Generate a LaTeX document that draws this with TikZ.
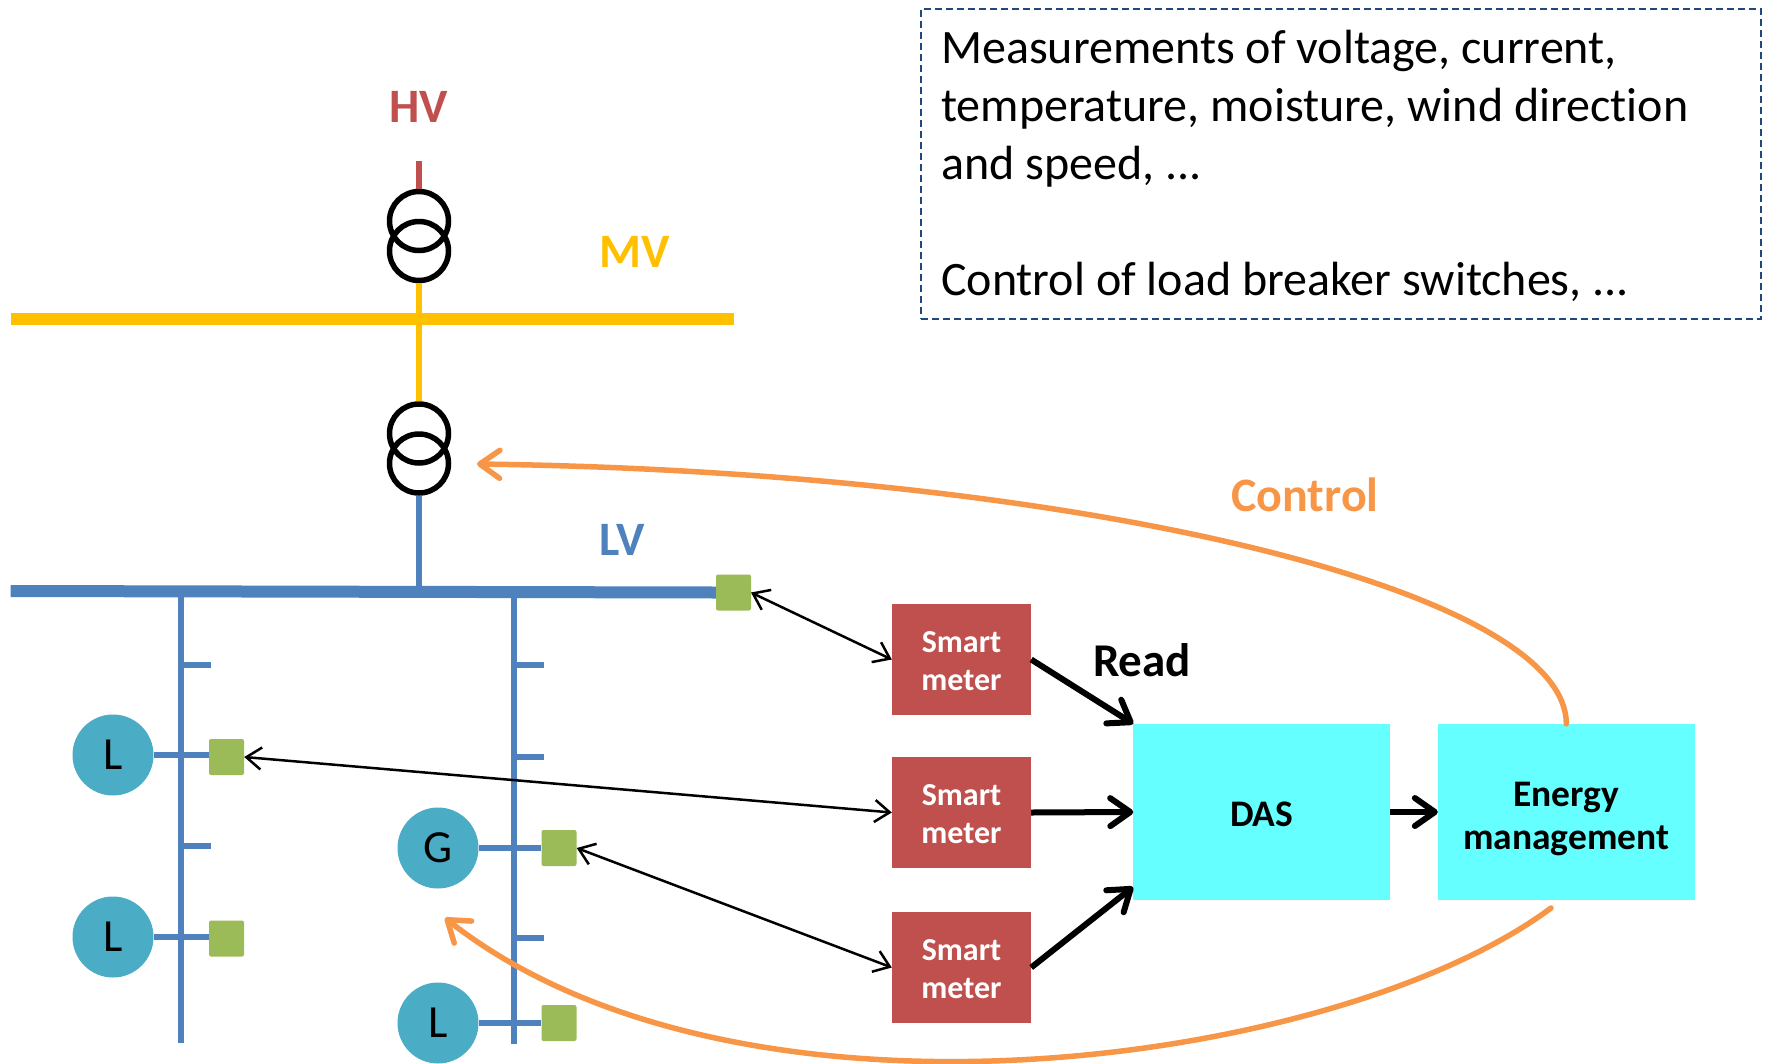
\documentclass[tikz,border=0pt]{standalone}
\usepackage{fontspec}
\setmainfont[Ligatures=NoCommon]{Carlito}
\usetikzlibrary{arrows.meta}
\definecolor{hvred}{HTML}{C0504D}
\definecolor{mvyellow}{HTML}{FFC000}
\definecolor{lvblue}{HTML}{4F81BD}
\definecolor{loadteal}{HTML}{4BACC6}
\definecolor{meetgreen}{HTML}{9BBB59}
\definecolor{dascyan}{HTML}{66FFFF}
\definecolor{ctrlorange}{HTML}{F79646}
\definecolor{boxblue}{HTML}{1F497D}
\tikzset{
  xfmr/.style={circle,draw=black,line width=5.5pt,minimum size=59pt,inner sep=0pt},
  bus/.style={line width=12pt},
  feeder/.style={lvblue,line width=6pt},
  loadnode/.style={circle,fill=loadteal,minimum size=81pt,inner sep=0pt,font=\fontsize{46}{46}\selectfont},
  sensor/.style={rectangle,rounded corners=2pt,fill=meetgreen,minimum width=35pt,minimum height=36pt,inner sep=0pt},
  meterbox/.style={rectangle,fill=hvred,text=white,minimum width=139pt,minimum height=111pt,inner sep=0pt,align=center,font=\fontsize{32}{38}\selectfont\bfseries},
  sysbox/.style={rectangle,fill=dascyan,minimum width=256.5pt,minimum height=176pt,inner sep=0pt,align=center,font=\fontsize{37.5}{43}\selectfont\bfseries},
  thin link/.style={black,line width=2.5pt,{Straight Barb[length=15pt,width=22pt]}-{Straight Barb[length=15pt,width=22pt]}},
  read link/.style={black,line width=6pt,-{Straight Barb[length=20pt,width=28pt,round]}},
  control link/.style={ctrlorange,line width=5.5pt,line cap=round,-{Straight Barb[length=20pt,width=28pt,round]}},
  level label/.style={font=\fontsize{48}{48}\selectfont\bfseries,inner sep=0pt},
}
\begin{document}
\begin{tikzpicture}[x=1pt,y=-1pt]
\useasboundingbox (0,0) rectangle (1772,1063);
% free line ends
\coordinate (hvtop) at (419,161);
\coordinate (mvL) at (10.6,319);
\coordinate (mvR) at (734,319);
\coordinate (lvL) at (10.6,591);
\coordinate (lvT) at (419,591.5);
\coordinate (f1top) at (181,591);
\coordinate (f1end) at (181,1043);
\coordinate (f2top) at (514,592);
\coordinate (f2end) at (514,1044);
% transformers
\node[xfmr] (t1a) at (419,221) {};
\node[xfmr] (t1b) at (419,251) {};
\node[xfmr] (t2a) at (419,433.5) {};
\node[xfmr] (t2b) at (419,463.5) {};
\draw[hvred,line width=6pt] (hvtop) -- (t1a.north);
\draw[mvyellow,line width=6pt] (t1b.south) -- (t2a.north);
\draw[mvyellow,bus] (mvL) -- (mvR);
\draw[lvblue,line width=6pt] (t2b.south) -- (lvT);
% sensors
\node[sensor] (sLV) at (733.5,592.5) {};
\node[sensor] (s1) at (226.5,757) {};
\node[sensor] (s2) at (226.5,938.5) {};
\node[sensor] (s3) at (559,848) {};
\node[sensor] (s4) at (559,1023) {};
% loads
\node[loadnode] (l1) at (113,755) {L};
\node[loadnode] (l2) at (113,937) {L};
\node[loadnode] (g1) at (438,848) {G};
\node[loadnode] (l3) at (438,1023) {L};
% buses and feeders
\draw[lvblue,bus] (lvL) -- (sLV.west);
\draw[feeder] (f1top) -- (f1end);
\draw[feeder] (f2top) -- (f2end);
\draw[feeder] (l1.east) -- (s1.west |- l1.east);
\draw[feeder] (l2.east) -- (s2.west |- l2.east);
\draw[feeder] (g1.east) -- (s3.west |- g1.east);
\draw[feeder] (l3.east) -- (s4.west |- l3.east);
\coordinate (t1) at (211,664.5);
\coordinate (t2) at (211,846);
\coordinate (t3) at (544,664.5);
\coordinate (t4) at (544,757);
\coordinate (t5) at (544,938);
\draw[feeder] (f1top |- t1) -- (t1);
\draw[feeder] (f1top |- t2) -- (t2);
\draw[feeder] (f2top |- t3) -- (t3);
\draw[feeder] (f2top |- t4) -- (t4);
\draw[feeder] (f2top |- t5) -- (t5);
% level labels
\node[level label,text=hvred] (hv) at (419,107) {HV};
\node[level label,text=mvyellow] (mv) at (635,252) {MV};
\node[level label,text=lvblue] (lv) at (622,540) {LV};
% meters and systems
\node[meterbox] (m1) at (961.5,659.5) {\rule{0pt}{25pt}Smart\\meter};
\node[meterbox] (m2) at (961.5,812.5) {\rule{0pt}{25pt}Smart\\meter};
\node[meterbox] (m3) at (961.5,967.5) {\rule{0pt}{25pt}Smart\\meter};
\node[sysbox] (das) at (1261.7,812) {\rule{0pt}{29pt}DAS};
\node[sysbox] (em) at (1566.3,812) {\rule{0pt}{38pt}Energy\\management};
\coordinate (dasin) at (1133,887);
\coordinate (emout) at (1551,908);
\coordinate (sLVe) at (751,592.5);
% thin links
\draw[thin link] (sLVe) -- (m1.west);
\draw[thin link] (s1.east) -- (m2.west);
\draw[thin link] (s3.east) -- (m3.west);
% read links
\draw[read link] (m1.east) -- (das.north west);
\draw[read link] (m2.east) -- (das.west);
\draw[read link] (m3.east) -- (dasin);
\draw[read link] (das.east) -- (em.west);
\node[font=\fontsize{47}{47}\selectfont\bfseries,inner sep=0pt] (read) at (1142,660) {Read};
% control links
\coordinate (ctrlT) at (477,464);
\coordinate (ctrlB) at (445,918);
\draw[control link] (em.north) .. controls (1566,590) and (1080,472) .. (ctrlT);
\draw[control link] (emout) .. controls (1340,1065) and (740,1150) .. (ctrlB);
\node[level label,text=ctrlorange] (control) at (1305,495) {Control};
% info box
\node[draw=boxblue,dash pattern=on 7pt off 4pt,line width=2pt,minimum width=840pt,minimum height=310pt,inner sep=0pt] (info) at (1341,164) {};
\node[anchor=north west,inner sep=0pt,align=left,font=\fontsize{48}{58}\selectfont] (infotext) at (941,30) {Measurements of voltage, current,\\temperature, moisture, wind direction\\and speed, ...\\[58pt]Control of load breaker switches, ...};
\end{tikzpicture}
\end{document}
